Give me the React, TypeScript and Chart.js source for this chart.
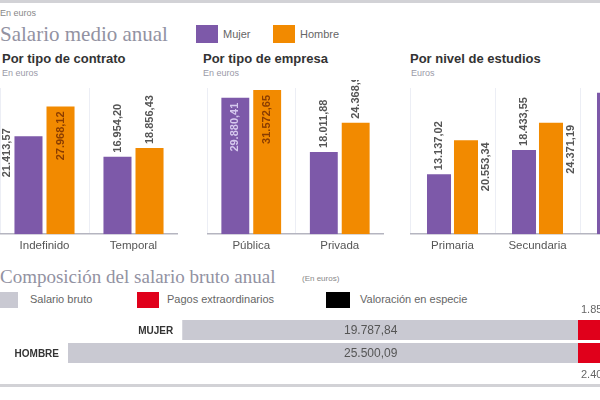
import React, { useEffect, useRef } from 'react';
import { Chart, registerables } from 'chart.js';

Chart.register(...registerables);

// Salario medio anual (euros)
const contratoLabels = ['Indefinido', 'Temporal'];
const contratoMujer = [21413.57, 16954.2];
const contratoHombre = [27968.12, 18856.43];

const empresaLabels = ['Pública', 'Privada'];
const empresaMujer = [29880.41, 18011.88];
const empresaHombre = [31572.65, 24368.9];

const estudiosLabels = ['Primaria', 'Secundaria', 'Superior'];
const estudiosMujer = [13137.02, 18433.55, 30934.76];
const estudiosHombre = [20553.34, 24371.19, 38712.4];

// Composición del salario bruto anual (euros)
const sexoLabels = ['MUJER', 'HOMBRE'];
const salarioBruto = [19787.84, 25500.09];
const pagosExtra = [1853.2, 2408.61];
const valoracionEspecie = [96.55, 147.73];

const PURPLE = '#7d59a9';
const ORANGE = '#f28a00';
const GRAY = '#c9c9d2';
const RED = '#e0001b';

const fmt = (v: number) => {
    const [i, d] = v.toFixed(2).split('.');
    return i.replace(/\B(?=(\d{3})+(?!\d))/g, '.') + ',' + d;
};

type Place = 'above' | 'inside' | 'left' | 'right';

interface PanelProps {
    labels: string[];
    mujer: number[];
    hombre: number[];
    places: Place[][];
    left: number;
    width: number;
    catPct: number;
    barPct: number;
}

function BarPanel({ labels, mujer, hombre, places, left, width, catPct, barPct }: PanelProps) {
    const canvasRef = useRef<HTMLCanvasElement>(null);

    useEffect(() => {
        if (!canvasRef.current) return;
        const valueLabels = {
            id: 'valueLabels',
            afterDatasetsDraw(chart: any) {
                const ctx = chart.ctx;
                ctx.save();
                ctx.font = 'bold 11px "Liberation Sans"';
                ctx.textBaseline = 'middle';
                chart.data.datasets.forEach((ds: any, di: number) => {
                    chart.getDatasetMeta(di).data.forEach((bar: any, i: number) => {
                        const txt = fmt(ds.data[i]);
                        const p = places[di][i];
                        let tx = bar.x;
                        let ty = bar.y - 4;
                        let align = 'left';
                        let color = '#555';
                        if (p === 'inside') {
                            ty = bar.y + 5;
                            align = 'right';
                            color = di === 0 ? '#d6c9ee' : '#8a3d00';
                        } else if (p === 'left') {
                            tx = bar.x - bar.width / 2 - 7;
                            ty = bar.y - 8;
                            align = 'right';
                        } else if (p === 'right') {
                            tx = bar.x + bar.width / 2 + 8;
                            ty = bar.y + 2;
                            align = 'right';
                        }
                        ctx.save();
                        ctx.translate(tx, ty);
                        ctx.rotate(-Math.PI / 2);
                        ctx.textAlign = align;
                        ctx.fillStyle = color;
                        ctx.fillText(txt, 0, 0);
                        ctx.restore();
                    });
                });
                ctx.restore();
            },
        };

        const chart = new Chart(canvasRef.current, {
            type: 'bar',
            data: {
                labels,
                datasets: [
                    { label: 'Mujer', data: mujer, backgroundColor: PURPLE, categoryPercentage: catPct, barPercentage: barPct },
                    { label: 'Hombre', data: hombre, backgroundColor: ORANGE, categoryPercentage: catPct, barPercentage: barPct },
                ],
            },
            options: {
                animation: false,
                responsive: true,
                maintainAspectRatio: false,
                layout: { padding: { top: 8, left: 0, right: 0, bottom: 0 } },
                plugins: { legend: { display: false }, tooltip: { enabled: false } },
                scales: {
                    x: {
                        grid: { color: '#eceef5', drawTicks: false },
                        border: { color: '#b5b5c0', width: 1.5 },
                        ticks: { color: '#555', padding: 5, font: { size: 11.5, family: 'Liberation Sans' } },
                    },
                    y: { display: false, min: 0, max: 32000 },
                },
            },
            plugins: [valueLabels],
        });
        return () => chart.destroy();
    }, []);

    return (
        <div style={{ position: 'absolute', left, top: 80, width, height: 178 }}>
            <canvas ref={canvasRef}></canvas>
        </div>
    );
}

function CompositionChart() {
    const canvasRef = useRef<HTMLCanvasElement>(null);

    useEffect(() => {
        if (!canvasRef.current) return;
        const textPlugin = {
            id: 'compText',
            afterDatasetsDraw(chart: any) {
                const ctx = chart.ctx;
                const x = chart.scales.x;
                ctx.save();
                ctx.textBaseline = 'middle';
                chart.getDatasetMeta(0).data.forEach((bar: any, i: number) => {
                    ctx.font = 'bold 10px "Liberation Sans"';
                    ctx.fillStyle = '#333';
                    ctx.textAlign = 'right';
                    ctx.fillText(sexoLabels[i], bar.x - 9, bar.y + 1);
                    ctx.font = '12px "Liberation Sans"';
                    ctx.fillStyle = '#555';
                    ctx.textAlign = 'left';
                    ctx.fillText(fmt(salarioBruto[i]), x.getPixelForValue(-11700), bar.y + 1);
                });
                ctx.font = '11px "Liberation Sans"';
                ctx.fillStyle = '#666';
                chart.getDatasetMeta(1).data.forEach((bar: any, i: number) => {
                    const ty = i === 0 ? bar.y - bar.height / 2 - 10 : bar.y + bar.height / 2 + 12;
                    ctx.fillText(fmt(pagosExtra[i]), bar.base + 3, ty);
                });
                ctx.restore();
            },
        };

        const chart = new Chart(canvasRef.current, {
            type: 'bar',
            data: {
                labels: sexoLabels,
                datasets: [
                    { label: 'Salario bruto', data: salarioBruto.map(v => -v), backgroundColor: GRAY },
                    { label: 'Pagos extraordinarios', data: pagosExtra, backgroundColor: RED },
                    { label: 'Valoración en especie', data: valoracionEspecie, backgroundColor: '#000' },
                ],
            },
            options: {
                indexAxis: 'y',
                animation: false,
                responsive: true,
                maintainAspectRatio: false,
                layout: { padding: { top: 18.5, bottom: 20.5, left: 0, right: 0 } },
                datasets: { bar: { categoryPercentage: 1, barPercentage: 0.87 } },
                plugins: { legend: { display: false }, tooltip: { enabled: false } },
                scales: {
                    x: { display: false, stacked: true, min: -28900, max: 1100 },
                    y: { display: false, stacked: true },
                },
            },
            plugins: [textPlugin],
        });
        return () => chart.destroy();
    }, []);

    return (
        <div style={{ position: 'absolute', left: 0, top: 300, width: 600, height: 85 }}>
            <canvas ref={canvasRef}></canvas>
        </div>
    );
}

const abs = (left: number, top: number, extra: React.CSSProperties = {}): React.CSSProperties => ({
    position: 'absolute', left, top, whiteSpace: 'nowrap', ...extra,
});

export default function App() {
    const panelTitle: React.CSSProperties = { fontWeight: 'bold', fontSize: 13, color: '#333' };
    const subTitle: React.CSSProperties = { fontSize: 9, color: '#9a9aa8' };
    const legendText: React.CSSProperties = { fontSize: 11, color: '#666' };
    const bigTitle: React.CSSProperties = { fontFamily: '"Liberation Serif"', color: '#9292a2' };

    return (
        <div style={{ position: 'fixed', left: 0, top: 0, width: 600, height: 400, overflow: 'hidden', background: '#fff', fontFamily: '"Liberation Sans"' }}>
            <div style={abs(0, 0, { width: 600, height: 3, background: '#d2d2d6' })}></div>
            <div style={abs(0, 8, { fontSize: 9, color: '#888' })}>En euros</div>

            {/* Salario medio anual */}
            <div style={abs(0, 22, { ...bigTitle, fontSize: 21 })}>Salario medio anual</div>
            <div style={abs(196, 25, { width: 22, height: 18, background: PURPLE })}></div>
            <div style={abs(223, 28, legendText)}>Mujer</div>
            <div style={abs(273, 25, { width: 22, height: 18, background: ORANGE })}></div>
            <div style={abs(300, 28, legendText)}>Hombre</div>

            <div style={abs(2, 51, panelTitle)}>Por tipo de contrato</div>
            <div style={abs(2, 68, subTitle)}>En euros</div>
            <div style={abs(203, 51, panelTitle)}>Por tipo de empresa</div>
            <div style={abs(203, 68, subTitle)}>En euros</div>
            <div style={abs(410, 51, panelTitle)}>Por nivel de estudios</div>
            <div style={abs(411, 68, subTitle)}>Euros</div>

            <BarPanel labels={contratoLabels} mujer={contratoMujer} hombre={contratoHombre}
                places={[['left', 'above'], ['inside', 'above']]} left={0} width={178} catPct={0.72} barPct={0.875} />
            <BarPanel labels={empresaLabels} mujer={empresaMujer} hombre={empresaHombre}
                places={[['inside', 'above'], ['inside', 'above']]} left={207} width={177} catPct={0.72} barPct={0.875} />
            <BarPanel labels={estudiosLabels} mujer={estudiosMujer} hombre={estudiosHombre}
                places={[['above', 'above', 'inside'], ['right', 'right', 'inside']]} left={410} width={255} catPct={0.635} barPct={0.89} />

            {/* Composición del salario bruto anual */}
            <div style={abs(0, 266, { ...bigTitle, fontSize: 19 })}>Composición del salario bruto anual</div>
            <div style={abs(302, 274, { fontSize: 8, color: '#888' })}>(En euros)</div>
            <div style={abs(-4, 292, { width: 22, height: 16, background: GRAY })}></div>
            <div style={abs(30, 293, legendText)}>Salario bruto</div>
            <div style={abs(137, 292, { width: 22, height: 16, background: RED })}></div>
            <div style={abs(167, 293, legendText)}>Pagos extraordinarios</div>
            <div style={abs(326, 292, { width: 24, height: 16, background: '#000' })}></div>
            <div style={abs(360, 293, legendText)}>Valoración en especie</div>

            <CompositionChart />
            <div style={abs(0, 384, { width: 600, height: 3, background: '#d2d2d6' })}></div>
        </div>
    );
}
